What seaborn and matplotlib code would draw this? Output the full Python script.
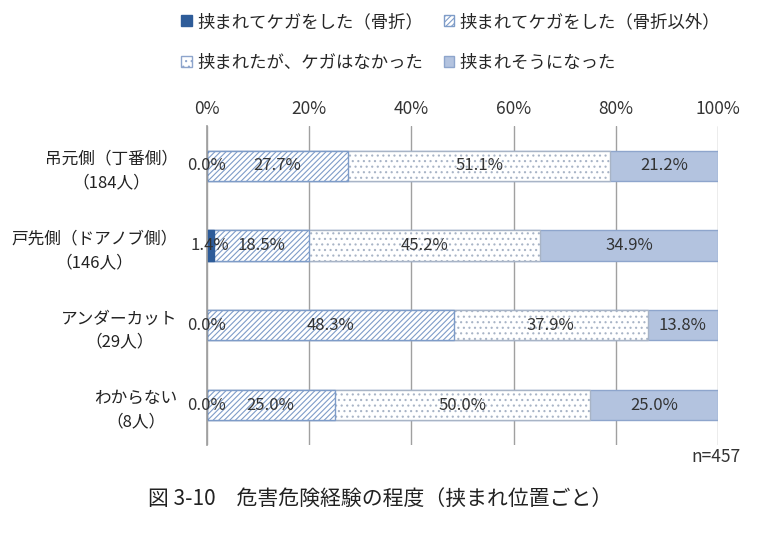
import numpy as np
import pandas as pd
import matplotlib.pyplot as plt
import seaborn as sns
from matplotlib.patches import Patch

categories = ["吊元側（丁番側）\n（184人）", "戸先側（ドアノブ側）\n（146人）",
              "アンダーカット\n（29人）", "わからない\n（8人）"]
series = ["挟まれてケガをした（骨折）", "挟まれてケガをした（骨折以外）",
          "挟まれたが、ケガはなかった", "挟まれそうになった"]
kossetsu = [0.0, 1.4, 0.0, 0.0]
kega = [27.7, 18.5, 48.3, 25.0]
nashi = [51.1, 45.2, 37.9, 50.0]
sou = [21.2, 34.9, 13.8, 25.0]

sns.set_theme(style="white")
plt.rcParams['font.family'] = ['Noto Sans CJK JP', 'DejaVu Sans']
plt.rcParams['hatch.linewidth'] = 0.8

vals = np.array([kossetsu, kega, nashi, sou])
cum = vals.cumsum(axis=0)
df = pd.DataFrame({"cat": categories})

face = ["#2E5C99", "white", "white", "#B3C3DF"]
hatch = [None, "//////", "...", None]
hcol = ["#2E5C99", "#7E9CC8", "#A8B4C6", "#8EA5CC"]
edge = ["#2E5C99", "#7E9CC8", "#8EA5CC", "#8EA5CC"]

fig = plt.figure(figsize=(7.6, 5.36), dpi=100)
ax = fig.add_axes([0.272, 0.17, 0.673, 0.595])

for i in range(3, -1, -1):
    df["v"] = cum[i]
    n0 = len(ax.patches)
    sns.barplot(data=df, x="v", y="cat", orient="h", ax=ax, width=0.38,
                color=face[i], saturation=1, edgecolor=hcol[i], linewidth=1.0)
    for p in ax.patches[n0:]:
        p.set_facecolor(face[i])
        p.set_edgecolor(hcol[i])
        if hatch[i]:
            p.set_hatch(hatch[i])

for i in range(4):
    for j in range(4):
        left = cum[i][j] - vals[i][j]
        ax.text(left + vals[i][j] / 2, j, f"{vals[i][j]:.1f}%", ha="center",
                va="center", fontsize=12, color="#333333")

ax.set_xlim(0, 100)
ax.set_ylim(3.5, -0.5)
ax.xaxis.tick_top()
ax.set_xticks(range(0, 101, 20))
ax.set_xticklabels([f"{t}%" for t in range(0, 101, 20)], fontsize=12.5, color="#333333")
ax.grid(axis="x", color="#a0a0a0", linewidth=1)
ax.set_axisbelow(True)
ax.set_xlabel("")
ax.set_ylabel("")
ax.set_yticks(range(4))
ax.set_yticklabels(categories, fontsize=12, color="#222222", multialignment="center",
                   linespacing=1.5)
ax.tick_params(axis="y", length=0, pad=21)
ax.tick_params(axis="x", length=0, pad=6)
ax.set_yticks([-0.5, 0.5, 1.5, 2.5, 3.5], minor=True)
ax.tick_params(axis="y", which="minor", length=5, color="#a0a0a0", width=1)
for s in ["top", "right", "bottom"]:
    ax.spines[s].set_visible(False)
ax.spines["left"].set_color("#a0a0a0")

order = [0, 2, 1, 3]
handles = [Patch(facecolor=face[i], edgecolor=edge[i], hatch=hatch[i]) for i in order]
fig.legend(handles, [series[i] for i in order], loc="upper left",
           bbox_to_anchor=(0.218, 1.005), ncol=2, frameon=False, fontsize=12.5,
           handlelength=0.6, handleheight=0.6, handletextpad=0.3, columnspacing=1.2,
           labelspacing=1.3)

fig.text(0.975, 0.148, "n=457", ha="right", va="center", fontsize=12.5, color="#333333")
fig.text(0.5, 0.068, "図 3-10　危害危険経験の程度（挟まれ位置ごと）", ha="center",
         va="center", fontsize=15, color="#222222")

fig.savefig("out.png", dpi=100)
